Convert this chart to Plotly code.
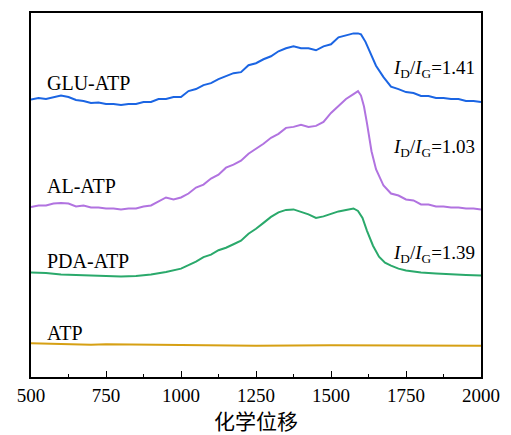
import plotly.graph_objects as go

# Raman shift (cm-1) and relative intensity
glu_x = [500, 525, 550, 575, 600, 625, 650, 675, 700, 725, 750, 775, 800, 825, 850, 875, 900, 925, 950, 975,
         1000, 1025, 1050, 1075, 1100, 1125, 1150, 1175, 1200, 1225, 1250, 1275, 1300, 1325, 1350, 1375, 1400,
         1425, 1450, 1475, 1500, 1525, 1550, 1575, 1590, 1600, 1615, 1630, 1650, 1675, 1700, 1725, 1750, 1775,
         1800, 1825, 1850, 1875, 1900, 1925, 1950, 1975, 2000]
glu_y = [279, 280.5, 279.5, 281.5, 283, 281.5, 278.5, 277.5, 275.5, 276, 274.5, 274.5, 273.5, 274.5, 274.5, 276.5,
         276.5, 279.5, 279.5, 281.5, 281.5, 287.5, 289.5, 293.5, 295.5, 299.5, 302.5, 305.5, 306.5, 313.5, 315.5,
         319.5, 322.5, 327.5, 330.5, 332.5, 330.5, 330.5, 328.5, 332.5, 334.5, 341.5, 343.5, 345.5, 345.5, 344.5,
         337, 327, 313, 301.5, 292, 289.5, 286.5, 285.5, 282.5, 282.5, 280.5, 280.5, 279.5, 279.5, 277.5, 277.5, 276.5]

al_x = [500, 525, 550, 575, 600, 625, 650, 675, 700, 725, 750, 775, 800, 825, 850, 875, 900, 925, 950, 975,
        1000, 1025, 1050, 1075, 1100, 1125, 1150, 1175, 1200, 1225, 1250, 1275, 1300, 1325, 1350, 1375, 1400,
        1425, 1450, 1475, 1500, 1525, 1550, 1575, 1590, 1600, 1610, 1620, 1635, 1650, 1675, 1700, 1725, 1750,
        1775, 1800, 1825, 1850, 1875, 1900, 1925, 1950, 1975, 2000]
al_y = [171, 172.5, 172.5, 174.5, 175, 174.5, 171.5, 172.5, 170.5, 170.5, 169.5, 169.5, 168.5, 169.5, 169.5, 171.5,
        172.5, 176.5, 180.5, 178.5, 180.5, 184.5, 190.5, 193.5, 199.5, 203.5, 210.5, 213.5, 217.5, 224.5, 229.5,
        234.5, 240.5, 244.5, 250.5, 251.5, 253.5, 251.5, 252.5, 256.5, 265.5, 272.5, 279.5, 284.5, 287.5, 283,
        272, 255, 227, 209, 192.5, 184.5, 182.5, 178.5, 177.5, 173.5, 173.5, 171.5, 171.5, 170.5, 170.5, 169.5,
        169.5, 168.5]

pda_x = [500, 550, 600, 650, 700, 750, 800, 850, 900, 950, 1000, 1025, 1050, 1075, 1100, 1125, 1150, 1175, 1200,
         1225, 1250, 1275, 1300, 1325, 1350, 1375, 1400, 1425, 1450, 1475, 1500, 1525, 1550, 1575, 1590, 1605,
         1620, 1640, 1660, 1680, 1700, 1725, 1750, 1800, 1850, 1900, 1950, 2000]
pda_y = [105, 104.5, 103, 102.5, 102, 101.5, 101, 101.5, 103, 105.5, 109, 112.5, 116, 120.5, 123, 127.5, 130,
         133.5, 137, 144, 149, 155, 161, 165.5, 168, 168.5, 166, 163.5, 160, 161.5, 164, 166.5, 168, 169.5, 167,
         160, 147, 132, 121, 115, 112, 109, 107, 105, 104, 103, 102.5, 102]

atp_x = [500, 550, 600, 700, 750, 1000, 1250, 1500, 1750, 2000]
atp_y = [34, 33.5, 33, 32.5, 33, 32, 31.5, 32, 31.5, 31.5]

names = ["GLU-ATP", "AL-ATP", "PDA-ATP", "ATP"]
ratios = ["1.41", "1.03", "1.39"]
colors = ["#1b65e3", "#b173e0", "#2aa96b", "#d6a014"]

fig = go.Figure()
for xs, ys, c, n in zip([glu_x, al_x, pda_x, atp_x], [glu_y, al_y, pda_y, atp_y], colors, names):
    fig.add_trace(go.Scatter(x=xs, y=ys, mode="lines", name=n,
                             line=dict(color=c, width=2), showlegend=False))

font_serif = "Liberation Serif"
label_y = [296, 192, 117, 44]
for n, ly in zip(names, label_y):
    fig.add_annotation(x=548, y=ly, text=n, showarrow=False, xanchor="left",
                       yanchor="middle", font=dict(family=font_serif, size=20, color="black"))

ratio_y = [310, 230, 124]
for r, ry in zip(ratios, ratio_y):
    fig.add_annotation(x=1988, y=ry, showarrow=False, xanchor="right", yanchor="middle",
                       text="<i>I</i><sub>D</sub>/<i>I</i><sub>G</sub>=" + r,
                       font=dict(family=font_serif, size=19, color="black"))

fig.update_layout(
    width=511, height=435,
    margin=dict(l=31, r=25, t=11, b=58),
    plot_bgcolor="white", paper_bgcolor="white",
    font=dict(family=font_serif, size=19, color="black"),
)
fig.update_xaxes(
    range=[500, 2000], tickvals=[500, 750, 1000, 1250, 1500, 1750, 2000],
    ticks="inside", ticklen=6, tickwidth=1.2, tickcolor="black",
    minor=dict(ticks="inside", ticklen=3, tickwidth=1.2, tickcolor="black", dtick=125, tick0=500),
    showline=True, linecolor="black", linewidth=1.5, mirror=True, showgrid=False, zeroline=False,
    tickfont=dict(family=font_serif, size=19, color="black"),
    title=dict(text="化学位移", font=dict(family="Noto Sans CJK SC", size=21, color="black"), standoff=3),
)
fig.update_yaxes(
    range=[0, 366], showticklabels=False, ticks="", showline=True, linecolor="black",
    linewidth=1.5, mirror=True, showgrid=False, zeroline=False,
)

fig.write_html("out.html")
